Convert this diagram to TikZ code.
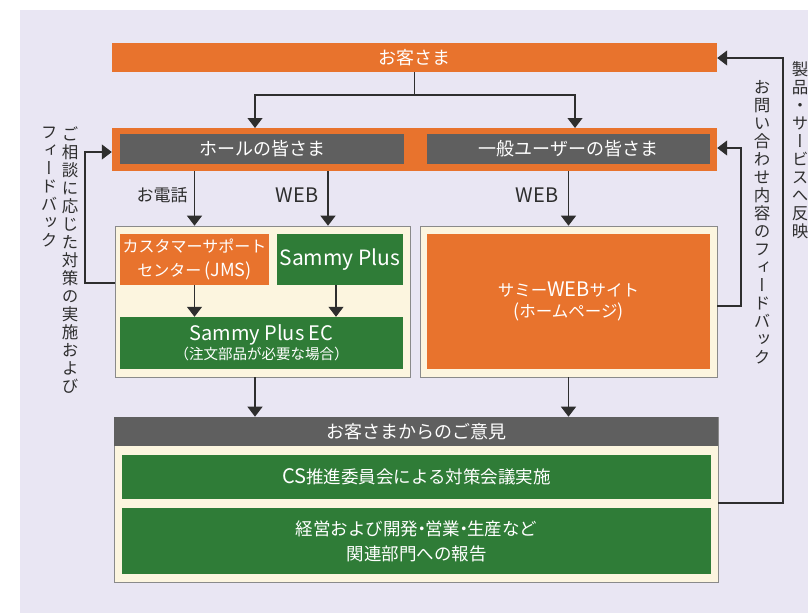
\documentclass[tikz,border=0pt]{standalone}
\usepackage{fontspec}
\setmainfont{Noto Sans CJK JP}
\newfontfamily\vfont{Noto Sans CJK JP}[RawFeature={+vert}]
\usetikzlibrary{arrows.meta}
\definecolor{bg}{HTML}{E9E6F3}
\definecolor{org}{HTML}{E8732D}
\definecolor{grn}{HTML}{2F7C37}
\definecolor{gry}{HTML}{5F5F5F}
\definecolor{crm}{HTML}{FCF5DF}
\definecolor{brd}{HTML}{8A8A8A}
\definecolor{lnc}{HTML}{2E2E2E}
\definecolor{txt}{HTML}{2E2E2E}
\newcommand{\fs}[2]{\fontsize{#1}{#2}\selectfont}
\newcommand{\lat}[1]{{\fontsize{20}{20}\selectfont #1}}
\tikzset{
  lbl/.style={text=white, align=center, inner sep=0pt},
  orgbox/.style={lbl, fill=org},
  grnbox/.style={lbl, fill=grn},
  grybox/.style={lbl, fill=gry},
  crmbox/.style={fill=crm, draw=brd, line width=0.6pt, inner sep=0pt},
  conn/.style={draw=lnc, line width=1.1pt},
  arr/.style={conn, -{Triangle[width=15pt,length=10pt]}},
  vtext/.style={font=\vfont\fs{16.5}{18}, align=center, inner sep=0pt, anchor=north, text=txt},
  plain/.style={font=\fs{17}{19}, text=txt, inner sep=0pt}
}
\begin{document}
\begin{tikzpicture}[x=1pt,y=-1pt]
\useasboundingbox (0,0) rectangle (808,613);
\fill[bg] (20,10) rectangle (808,613);

% top customers
\node[orgbox, font=\fs{18}{20}, minimum width=605pt, minimum height=29pt] (top) at (414.5,57.5) {お客さま};

% user band
\node[fill=org, inner sep=0pt, minimum width=605pt, minimum height=43pt] (band) at (414.5,149.5) {};
\node[grybox, font=\fs{18}{20}, minimum width=284pt, minimum height=30pt] (hall) at (262,149) {ホールの皆さま};
\node[grybox, font=\fs{18}{20}, minimum width=283pt, minimum height=30pt] (gen) at (568.5,149) {一般ユーザーの皆さま};

% middle containers
\node[crmbox, minimum width=295pt, minimum height=151pt] (leftbox) at (262.5,301.5) {};
\node[crmbox, minimum width=297pt, minimum height=151pt] (rightbox) at (568.5,301.5) {};
\node[orgbox, font=\fs{16}{24}, minimum width=149pt, minimum height=51pt] (jms) at (194.5,259.5) {カスタマーサポート\\センター {\fs{18}{18}(JMS)}};
\node[grnbox, minimum width=126pt, minimum height=51pt] (splus) at (340,259.5) {\fs{21}{22}Sammy Plus};
\node[grnbox, font=\fs{20}{21}, minimum width=283pt, minimum height=52pt] (ec) at (261.5,343) {Sammy Plus EC\\[-2pt]{\fs{14.5}{16}（注文部品が必要な場合）}};
\node[orgbox, font=\fs{16.5}{21}, minimum width=283pt, minimum height=135pt] (web) at (568.5,301.5) {サミー\lat{WEB}サイト\\{\fs{18}{18}(}ホームページ{\fs{18}{18})}};

% bottom container
\node[crmbox, minimum width=604pt, minimum height=165pt] (bottom) at (416,499.5) {};
\node[grybox, font=\fs{18}{20}, minimum width=604pt, minimum height=29pt] (head) at (416,431.5) {お客さまからのご意見};
\node[grnbox, font=\fs{17.5}{20}, minimum width=589pt, minimum height=44pt] (cs) at (416.5,477) {\lat{CS}推進委員会による対策会議実施};
\node[grnbox, font=\fs{17.5}{25}, minimum width=589pt, minimum height=66pt] (rep) at (416.5,541) {経営および開発{\kern-0.3em}・{\kern-0.3em}営業{\kern-0.3em}・{\kern-0.3em}生産など\\関連部門への報告};

% connectors top -> band
\coordinate (split) at (414.5,95);
\draw[conn] (top.south) -- (split);
\draw[arr] (split) -| (255,128);
\draw[arr] (split) -| (575,128);

% band -> containers
\draw[arr] (band.south -| jms.south) -- (leftbox.north -| jms.south);
\draw[arr] (328,171) -- (leftbox.north -| 328,0);
\draw[arr] (band.south -| rightbox.north) -- (rightbox.north);
\node[plain] (tel) at (162,195) {お電話};
\node[plain] (w1) at (297,195) {\lat{WEB}};
\node[plain] (w2) at (537,195) {\lat{WEB}};

% inside left container
\draw[arr] (jms.south) -- (ec.north -| jms.south);
\draw[arr] (splus.south -| 336,0) -- (ec.north -| 336,0);

% containers -> bottom
\draw[arr] (leftbox.south -| 255,0) -- (bottom.north -| 255,0);
\draw[arr] (rightbox.south) -- (bottom.north -| rightbox.south);

% feedback loops
\draw[arr] (leftbox.west |- 0,283) -- (85,283) |- (band.west |- 0,152);
\draw[arr] (rightbox.east |- 0,306) -- (741,306) |- (band.east |- 0,148);
\draw[arr] (bottom.east |- 0,503) -- (783,503) |- (top.east |- 0,58);

% vertical texts
\node[vtext] (v1) at (70,127) {ご\\相\\談\\に\\応\\じ\\た\\対\\策\\の\\実\\施\\お\\よ\\び};
\node[vtext] (v2) at (49,127) {フ\\ィ\\ー\\ド\\バ\\ッ\\ク};
\node[vtext] (v3) at (762,80) {お\\問\\い\\合\\わ\\せ\\内\\容\\の\\フ\\ィ\\ー\\ド\\バ\\ッ\\ク};
\node[vtext] (v4) at (800,61) {製\\品\\・\\サ\\ー\\ビ\\ス\\へ\\反\\映};
\end{tikzpicture}
\end{document}
